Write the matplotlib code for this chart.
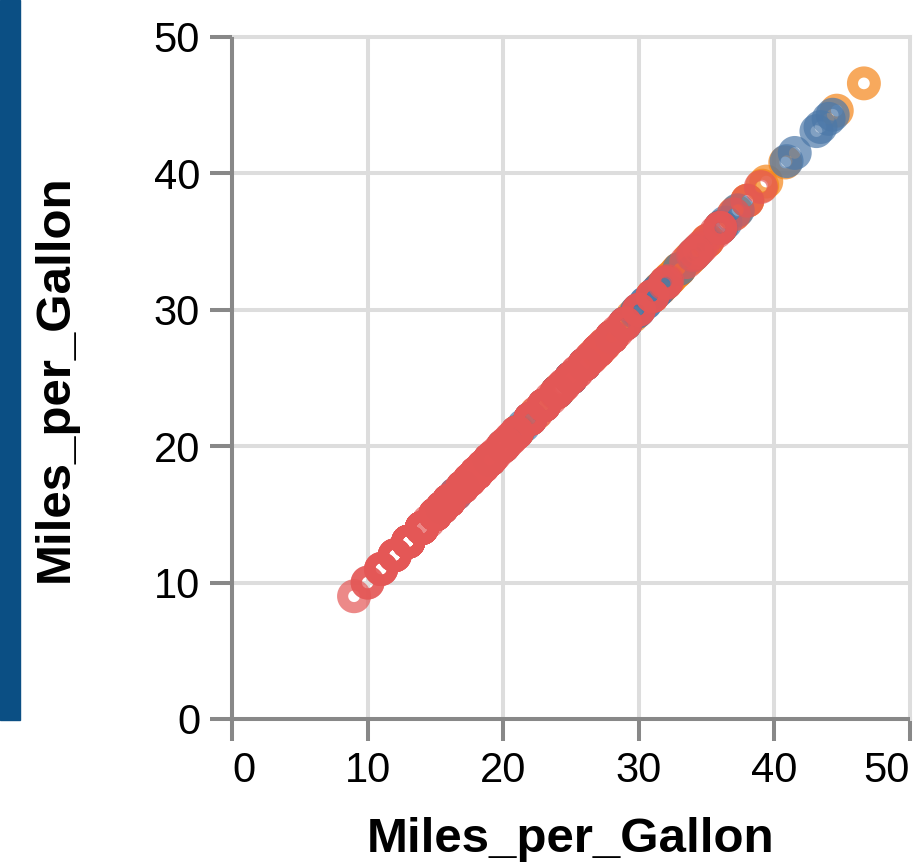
import matplotlib.pyplot as plt
from matplotlib.patches import Rectangle

# Miles_per_Gallon values of the cars data, split by Origin
usa_mpg = [18, 15, 18, 16, 17, 15, 14, 14, 14, 15, 15, 14, 15, 14, 22, 18, 21,
           10, 10, 11, 9, 28, 19, 16, 17, 19, 18, 14, 14, 14, 14, 12, 13, 13,
           18, 22, 19, 18, 23, 26, 25, 20, 21, 13, 14, 15, 14, 17, 11, 13, 12,
           13, 15, 13, 13, 14, 22, 28, 13, 14, 13, 14, 15, 12, 13, 13, 14, 13,
           12, 13, 18, 16, 18, 18, 23, 11, 12, 13, 12, 18, 21, 19, 21, 15, 16,
           15, 11, 20, 21, 19, 15, 26, 25, 16, 16, 18, 16, 13, 14, 14, 14, 28,
           19, 18, 15, 15, 16, 15, 16, 14, 17, 16, 15, 18, 21, 20, 13, 23, 20,
           23, 18, 19, 25, 26, 17.5, 16, 15.5, 14.5, 22, 22, 24, 22.5, 29, 24.5,
           20, 18, 18.5, 17.5, 26.5, 13, 16.5, 13, 13, 13, 30, 25.5, 17.5, 17,
           15.5, 15, 17.5, 20.5, 19, 18.5, 16, 15.5, 15.5, 16, 29, 24.5, 19,
           18.5, 17.5, 20.2, 19.4, 20.6, 20.8, 18.6, 18.1, 19.2, 17.7, 18.1,
           17.5, 30, 27.5, 20.2, 17.6, 28, 27, 18.1, 19.8, 18.2, 17, 15.5, 19.2,
           18.5, 31.9, 34.1, 35.7, 27.4, 25.4, 23, 27.2, 23.9, 34.2, 34.5, 28.4,
           28.8, 26.8, 33.5, 32.1, 28, 26.4, 24.3, 19.1, 34.7, 23.5, 30, 39,
           35.1, 32, 27, 34, 31, 29, 27, 24, 23, 36, 37, 31, 38, 36, 36, 27, 26,
           32, 28, 26, 24, 22, 27, 28, 31]
europe_mpg = [26, 25, 24, 25, 26, 28, 30, 26, 22, 21, 28, 23, 19, 20, 29, 24,
              26, 29, 25, 24, 29, 20, 19, 23, 24, 25, 22, 26, 24, 29, 21, 16,
              25, 29, 31.5, 30, 25, 20, 21.5, 16.5, 15.5, 22, 17, 36, 16.5, 25,
              36, 43.1, 36.1, 30.5, 41.5, 36.4, 44.3, 43.4, 29.8, 31.3, 37.3,
              44, 34.3, 29.9, 30.5, 40.9, 31.9, 33, 34]
japan_mpg = [24, 27, 27, 25, 31, 35, 24, 19, 28, 23, 27, 20, 22, 18, 20, 31,
             32, 31, 32, 24, 26, 29, 24, 24, 33, 33, 32, 28, 19, 31, 32, 27,
             24, 33, 29, 23, 25, 32.8, 39.4, 36.1, 27.5, 27.2, 21.1, 23.9,
             29.5, 31.8, 32.2, 32.3, 31.6, 28.1, 37.2, 40.8, 44.6, 46.6, 32.7,
             34.1, 33.8, 32.4, 29.8, 35, 37, 32.9, 31.6, 34.4, 24.2, 22.4,
             26.6, 39.1, 35.1, 32, 38, 34, 38, 36, 32, 33.7, 32.9, 31.5, 36.1]

origins = ['Japan', 'Europe', 'USA']
series = {'Japan': japan_mpg, 'Europe': europe_mpg, 'USA': usa_mpg}
colors = {'Europe': '#4c78a8', 'Japan': '#f58518', 'USA': '#e45756'}
ticks = [0, 10, 20, 30, 40, 50]

plt.rcParams['font.family'] = ['Liberation Sans', 'DejaVu Sans']

fig = plt.figure(figsize=(9.17, 8.65), dpi=100)
ax = fig.add_axes([232 / 917, 146 / 865, 678 / 917, 682 / 865])

# dark side bar from the page behind the chart
fig.patches.append(Rectangle((0, 145 / 865), 20 / 917, 720 / 865,
                             transform=fig.transFigure, color='#0b4f84',
                             zorder=0))

for o in origins:
    v = series[o]
    ax.scatter(v, v, s=270, facecolors='none', edgecolors=colors[o],
               linewidths=8, alpha=0.7, zorder=3)

ax.set_xlim(0, 50)
ax.set_ylim(0, 50)
ax.set_xticks(ticks)
ax.set_yticks(ticks)

ax.grid(True, color='#dddddd', linewidth=2.9, zorder=0)
ax.set_axisbelow(True)
for gl in ax.get_xgridlines() + ax.get_ygridlines():
    gl.set_clip_on(False)

for side in ['top', 'right']:
    ax.spines[side].set_visible(False)
for side in ['left', 'bottom']:
    ax.spines[side].set_color('#888888')
    ax.spines[side].set_linewidth(2.9)
    ax.spines[side].set_capstyle('butt')

ax.tick_params(length=16, width=2.9, color='#888888', pad=7,
               labelsize=30, labelcolor='black')

# flush the end labels of the x axis like vega does
xlabels = ax.get_xticklabels()
xlabels[0].set_horizontalalignment('left')
xlabels[-1].set_horizontalalignment('right')

fig.text(571 / 917, 1 - 840 / 865, 'Miles_per_Gallon', fontsize=35.5,
         fontweight='bold', ha='center', va='center')
fig.text(55 / 917, 1 - 378 / 865, 'Miles_per_Gallon', fontsize=35.5,
         fontweight='bold', ha='center', va='center', rotation=90)

fig.savefig('out.png', dpi=100)
